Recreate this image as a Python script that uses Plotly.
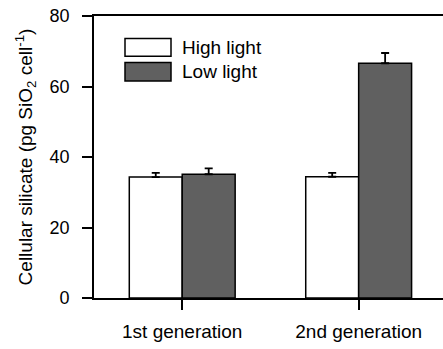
import plotly.graph_objects as go

categories = ["1st generation", "2nd generation"]
high_light = [34.3, 34.4]
high_light_err = [1.2, 1.1]
low_light = [35.1, 66.6]
low_light_err = [1.7, 2.9]
series_names = ["High light", "Low light"]
yticks = [0, 20, 40, 60, 80]

W, H = 443, 349
L, R, T, B = 94, 443, 15.7, 298

FONT = "Liberation Sans, Arial, sans-serif"

fig = go.Figure()
fig.add_trace(go.Bar(
    x=categories, y=high_light, name=series_names[0],
    marker=dict(color="white", line=dict(color="black", width=1.5)),
    error_y=dict(type="data", array=high_light_err, arrayminus=[0, 0], symmetric=False,
                 color="black", thickness=1.8, width=4),
))
fig.add_trace(go.Bar(
    x=categories, y=low_light, name=series_names[1],
    marker=dict(color="#606060", line=dict(color="black", width=1.5)),
    error_y=dict(type="data", array=low_light_err, arrayminus=[0, 0], symmetric=False,
                 color="black", thickness=1.8, width=4),
))

def px_x(x):
    return (x - L) / (R - L)

def px_y(y):
    return (B - y) / (B - T)

# manual legend
legend_boxes = [(125, 38.3, 171, 56, "white"), (125, 62.3, 171, 80.7, "#606060")]
label_y = [47, 71.5]
for (x0, y0, x1, y1, c), name, ly in zip(legend_boxes, series_names, label_y):
    fig.add_shape(type="rect", xref="paper", yref="paper",
                  x0=px_x(x0), x1=px_x(x1), y0=px_y(y1), y1=px_y(y0),
                  fillcolor=c, line=dict(color="black", width=1.5))
    fig.add_annotation(xref="paper", yref="paper", x=px_x(180), y=px_y(ly),
                       text=name, showarrow=False, xanchor="left", yanchor="middle",
                       font=dict(family=FONT, size=19, color="black"))

fig.update_layout(
    width=W, height=H,
    margin=dict(l=L, r=W - R, t=T, b=H - B),
    paper_bgcolor="white", plot_bgcolor="white",
    barmode="group", bargap=0.4, bargroupgap=0,
    showlegend=False,
    font=dict(family=FONT, size=18, color="black"),
)
fig.update_xaxes(
    range=[-0.5, 1.478], showline=True, linecolor="black", linewidth=1.8,
    mirror=True, ticks="outside", ticklen=10, tickwidth=1.5, tickcolor="black",
    showgrid=False, zeroline=False, tickfont=dict(size=19), ticklabelstandoff=5,
)
fig.update_yaxes(
    range=[0, 80], tickvals=yticks, showline=True, linecolor="black", linewidth=1.8,
    ticks="outside", ticklen=10, tickwidth=1.5, tickcolor="black",
    showgrid=False, zeroline=False, tickfont=dict(size=18), ticklabelstandoff=9,
    title=dict(text="Cellular silicate (pg SiO<sub>2</sub> cell<sup>-1</sup>)",
               font=dict(size=19), standoff=12),
)

fig.write_html("out.html")
